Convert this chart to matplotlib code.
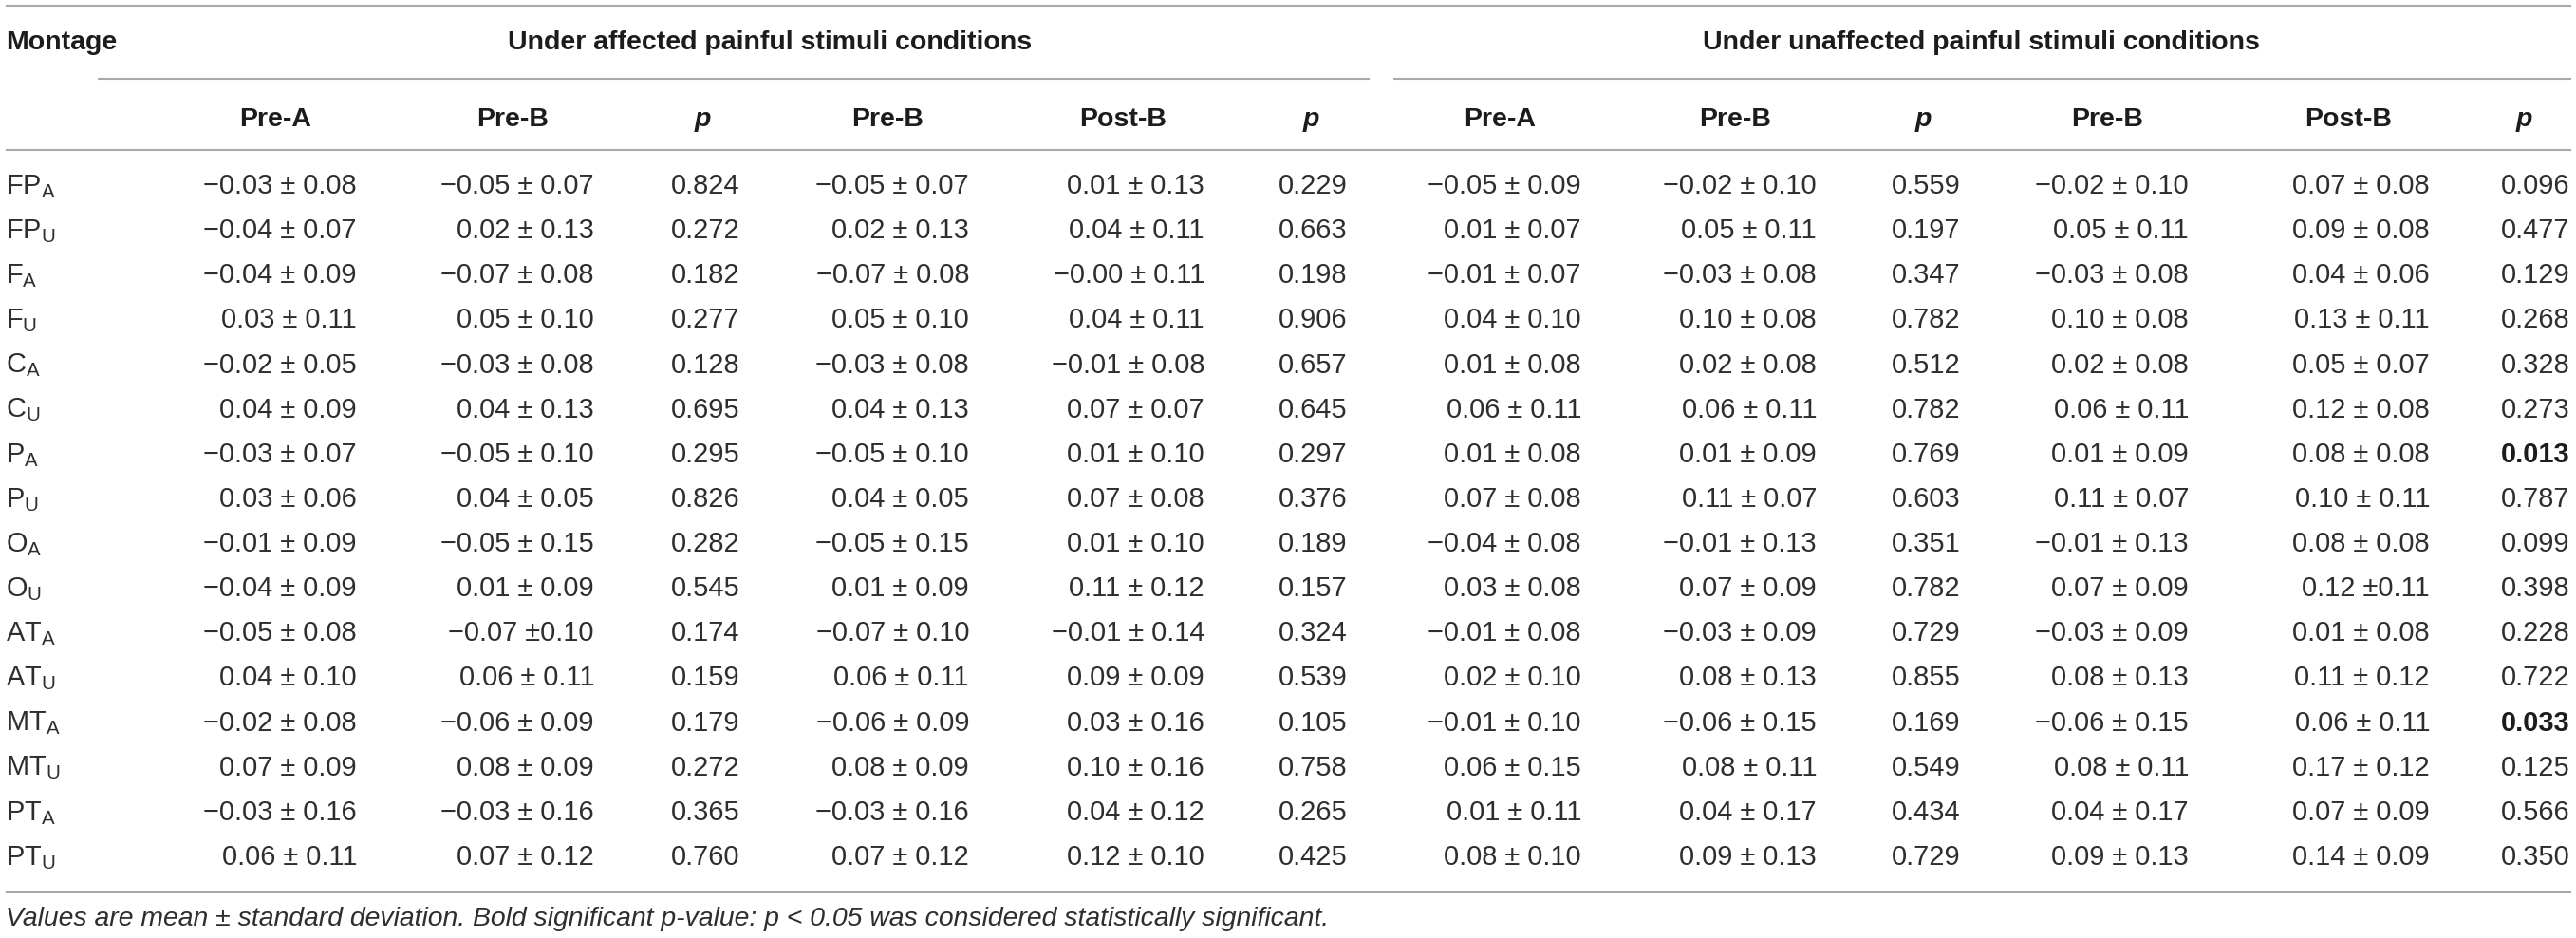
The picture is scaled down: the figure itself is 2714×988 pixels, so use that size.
import matplotlib
matplotlib.use("Agg")
import matplotlib.pyplot as plt

plt.rcParams['font.family'] = ['Liberation Sans', 'DejaVu Sans']
plt.rcParams['mathtext.fontset'] = 'custom'
plt.rcParams['mathtext.rm'] = 'Liberation Sans'
plt.rcParams['mathtext.it'] = 'Liberation Sans:italic'
plt.rcParams['mathtext.bf'] = 'Liberation Sans:bold'

# table content
montage = ["FP", "FP", "F", "F", "C", "C", "P", "P", "O", "O", "AT", "AT", "MT", "MT", "PT", "PT"]
side = ["A", "U"] * 8

group_titles = ["Under affected painful stimuli conditions",
                "Under unaffected painful stimuli conditions"]
col_titles = ["Pre-A", "Pre-B", "p", "Pre-B", "Post-B", "p"]

# under affected painful stimuli
aff_pre_a = ["−0.03 ± 0.08", "−0.04 ± 0.07", "−0.04 ± 0.09", "0.03 ± 0.11", "−0.02 ± 0.05", "0.04 ± 0.09",
             "−0.03 ± 0.07", "0.03 ± 0.06", "−0.01 ± 0.09", "−0.04 ± 0.09", "−0.05 ± 0.08", "0.04 ± 0.10",
             "−0.02 ± 0.08", "0.07 ± 0.09", "−0.03 ± 0.16", "0.06 ± 0.11"]
aff_pre_b = ["−0.05 ± 0.07", "0.02 ± 0.13", "−0.07 ± 0.08", "0.05 ± 0.10", "−0.03 ± 0.08", "0.04 ± 0.13",
             "−0.05 ± 0.10", "0.04 ± 0.05", "−0.05 ± 0.15", "0.01 ± 0.09", "−0.07 ±0.10", "0.06 ± 0.11",
             "−0.06 ± 0.09", "0.08 ± 0.09", "−0.03 ± 0.16", "0.07 ± 0.12"]
aff_p1 = ["0.824", "0.272", "0.182", "0.277", "0.128", "0.695", "0.295", "0.826",
          "0.282", "0.545", "0.174", "0.159", "0.179", "0.272", "0.365", "0.760"]
aff_pre_b2 = ["−0.05 ± 0.07", "0.02 ± 0.13", "−0.07 ± 0.08", "0.05 ± 0.10", "−0.03 ± 0.08", "0.04 ± 0.13",
              "−0.05 ± 0.10", "0.04 ± 0.05", "−0.05 ± 0.15", "0.01 ± 0.09", "−0.07 ± 0.10", "0.06 ± 0.11",
              "−0.06 ± 0.09", "0.08 ± 0.09", "−0.03 ± 0.16", "0.07 ± 0.12"]
aff_post_b = ["0.01 ± 0.13", "0.04 ± 0.11", "−0.00 ± 0.11", "0.04 ± 0.11", "−0.01 ± 0.08", "0.07 ± 0.07",
              "0.01 ± 0.10", "0.07 ± 0.08", "0.01 ± 0.10", "0.11 ± 0.12", "−0.01 ± 0.14", "0.09 ± 0.09",
              "0.03 ± 0.16", "0.10 ± 0.16", "0.04 ± 0.12", "0.12 ± 0.10"]
aff_p2 = ["0.229", "0.663", "0.198", "0.906", "0.657", "0.645", "0.297", "0.376",
          "0.189", "0.157", "0.324", "0.539", "0.105", "0.758", "0.265", "0.425"]

# under unaffected painful stimuli
un_pre_a = ["−0.05 ± 0.09", "0.01 ± 0.07", "−0.01 ± 0.07", "0.04 ± 0.10", "0.01 ± 0.08", "0.06 ± 0.11",
            "0.01 ± 0.08", "0.07 ± 0.08", "−0.04 ± 0.08", "0.03 ± 0.08", "−0.01 ± 0.08", "0.02 ± 0.10",
            "−0.01 ± 0.10", "0.06 ± 0.15", "0.01 ± 0.11", "0.08 ± 0.10"]
un_pre_b = ["−0.02 ± 0.10", "0.05 ± 0.11", "−0.03 ± 0.08", "0.10 ± 0.08", "0.02 ± 0.08", "0.06 ± 0.11",
            "0.01 ± 0.09", "0.11 ± 0.07", "−0.01 ± 0.13", "0.07 ± 0.09", "−0.03 ± 0.09", "0.08 ± 0.13",
            "−0.06 ± 0.15", "0.08 ± 0.11", "0.04 ± 0.17", "0.09 ± 0.13"]
un_p1 = ["0.559", "0.197", "0.347", "0.782", "0.512", "0.782", "0.769", "0.603",
         "0.351", "0.782", "0.729", "0.855", "0.169", "0.549", "0.434", "0.729"]
un_pre_b2 = list(un_pre_b)
un_post_b = ["0.07 ± 0.08", "0.09 ± 0.08", "0.04 ± 0.06", "0.13 ± 0.11", "0.05 ± 0.07", "0.12 ± 0.08",
             "0.08 ± 0.08", "0.10 ± 0.11", "0.08 ± 0.08", "0.12 ±0.11", "0.01 ± 0.08", "0.11 ± 0.12",
             "0.06 ± 0.11", "0.17 ± 0.12", "0.07 ± 0.09", "0.14 ± 0.09"]
un_p2 = ["0.096", "0.477", "0.129", "0.268", "0.328", "0.273", "0.013", "0.787",
         "0.099", "0.398", "0.228", "0.722", "0.033", "0.125", "0.566", "0.350"]

footnote = ("Values are mean ± standard deviation. Bold significant p-value: "
            "p < 0.05 was considered statistically significant.")

columns = [aff_pre_a, aff_pre_b, aff_p1, aff_pre_b2, aff_post_b, aff_p2,
           un_pre_a, un_pre_b, un_p1, un_pre_b2, un_post_b, un_p2]
is_p = [False, False, True, False, False, True] * 2

# layout in pixels
W, H = 2714, 988
col_x = [290, 540, 740, 935, 1183, 1381, 1580, 1828, 2026, 2220, 2474, 2659]
p_val_x = {2: 743, 5: 1383, 8: 2029, 11: 2671}
row0, row_step = 204, 47.13
body_pt = 20.9
head_pt = 20.5
line_c = '#a9a9a9'
txt_c = '#2e2e2e'
head_c = '#1c1c1c'

fig = plt.figure(figsize=(W / 100, H / 100), dpi=100)
ax = fig.add_axes([0, 0, 1, 1])
ax.set_xlim(0, W)
ax.set_ylim(H, 0)
ax.axis('off')

# rules
ax.hlines([6, 158, 940], 6, 2709, color=line_c, lw=1.5)
ax.hlines(83, 103, 1443, color=line_c, lw=1.5)
ax.hlines(83, 1468, 2709, color=line_c, lw=1.5)

# headers
ax.text(6, 52, "Montage", fontsize=head_pt, fontweight='bold', color=head_c, va='baseline', ha='left')
ax.text(811, 52, group_titles[0], fontsize=head_pt, fontweight='bold', color=head_c, va='baseline', ha='center')
ax.text(2087, 52, group_titles[1], fontsize=head_pt, fontweight='bold', color=head_c, va='baseline', ha='center')
for j, x in enumerate(col_x):
    t = col_titles[j % 6]
    ax.text(x, 133, t, fontsize=head_pt, fontweight='bold', color=head_c, va='baseline', ha='center',
            fontstyle='italic' if t == 'p' else 'normal')

# body
for i in range(len(montage)):
    y = row0 + i * row_step
    ax.text(6, y, montage[i] + r"$_{\mathrm{" + side[i] + "}}$", fontsize=body_pt, color=txt_c,
            va='baseline', ha='left')
    for j, col in enumerate(columns):
        val = col[i]
        if is_p[j]:
            bold = float(val) < 0.05
            ax.text(p_val_x[j], y, val, fontsize=body_pt, color=txt_c if not bold else head_c,
                    fontweight='bold' if bold else 'normal', va='baseline', ha='center')
        else:
            ax.text(col_x[j] + 86, y, val, fontsize=body_pt, color=txt_c, va='baseline', ha='right')

ax.text(6, 975, footnote, fontsize=20.4, fontstyle='italic', color=txt_c, va='baseline', ha='left')

fig.savefig("out.png", dpi=100)
